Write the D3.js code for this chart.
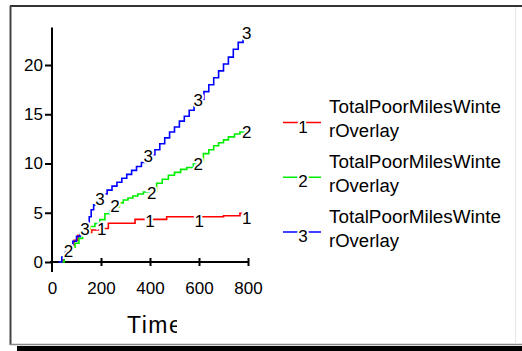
<!DOCTYPE html>
<html><head><meta charset="utf-8">
<script src="https://cdn.jsdelivr.net/npm/d3@7"></script>
<style>html,body{margin:0;padding:0;background:#fff;} svg{display:block;font-family:"Liberation Sans",Arial,sans-serif;}</style>
</head><body><svg id="c" width="522" height="351"></svg>
<script>
// ---- data ----
const xTicks = [0, 200, 400, 600, 800];
const yTicks = [0, 5, 10, 15, 20];
const xTitle = "Time";
const seriesKeys = ["1", "2", "3"];
const seriesNames = ["TotalPoorMilesWinterOverlay", "TotalPoorMilesWinterOverlay", "TotalPoorMilesWinterOverlay"];
const seriesColors = ["#ff0000", "#00ee00", "#0000ff"];

const s1Time = [30,45,60,75,90,106,130,162,200,230,339,468,600,700,767,790];
const s1Vals = [0,0.5,1.1,1.6,2.2,2.7,3.0,3.25,3.4,3.93,4.33,4.6,4.6,4.7,4.94,4.94];
const s2Time = [35,50,67,80,94,110,125,140,155,175,195,216,235,257,275,291,310,330,350,373,400,427,450,475,500,525,550,577,600,618,640,660,680,700,720,745,767,790];
const s2Vals = [0,0.5,1.0,1.5,1.9,2.4,2.8,3.2,3.6,3.9,4.3,4.9,5.2,5.6,6.0,6.3,6.5,6.7,6.9,7.1,7.2,8.0,8.4,8.8,9.1,9.4,9.6,10.0,10.2,11.0,11.4,11.8,12.1,12.4,12.7,13.0,13.2,13.4];
const s3Time = [26,40,55,70,85,100,115,128,142,152,160,170,182,196,210,225,245,265,285,305,325,345,365,385,400,420,440,460,480,500,520,540,560,580,600,620,640,660,680,700,720,740,760,780,795];
const s3Vals = [0,0.5,1.0,1.6,2.1,2.6,3.0,3.3,3.8,4.6,5.3,5.8,6.1,6.4,6.9,7.3,7.7,8.1,8.5,8.9,9.3,9.7,10.1,10.5,10.9,11.4,12.0,12.6,13.2,13.7,14.3,14.8,15.4,15.9,16.5,17.3,18.0,18.7,19.4,20.1,20.8,21.6,22.3,23.0,23.2];

const s1LabelTime = [203,400,601,795];
const s1LabelVals = [3.25,4.1,4.1,4.4];
const s2LabelTime = [67,257,407,597,795];
const s2LabelVals = [1.05,5.6,7.0,9.85,13.1];
const s3LabelTime = [135,196,393,597,795];
const s3LabelVals = [3.25,6.3,10.7,16.4,23.2];

// ---- build ----
const series = [
  {key: seriesKeys[0], name: seriesNames[0], color: seriesColors[0], t: s1Time, v: s1Vals, lt: s1LabelTime, lv: s1LabelVals},
  {key: seriesKeys[1], name: seriesNames[1], color: seriesColors[1], t: s2Time, v: s2Vals, lt: s2LabelTime, lv: s2LabelVals},
  {key: seriesKeys[2], name: seriesNames[2], color: seriesColors[2], t: s3Time, v: s3Vals, lt: s3LabelTime, lv: s3LabelVals}
];

const svg = d3.select("#c");
svg.append("rect").attr("width", 522).attr("height", 351).attr("fill", "#fff");

// frame
svg.append("line").attr("x1", 10).attr("y1", 6).attr("x2", 522).attr("y2", 6).attr("stroke", "#333").attr("stroke-width", 2);
svg.append("line").attr("x1", 10.5).attr("y1", 6).attr("x2", 10.5).attr("y2", 345).attr("stroke", "#444").attr("stroke-width", 2);
svg.append("line").attr("x1", 10).attr("y1", 344.5).attr("x2", 522).attr("y2", 344.5).attr("stroke", "#888").attr("stroke-width", 1.5);
svg.append("rect").attr("x", 17).attr("y", 346).attr("width", 505).attr("height", 5).attr("fill", "#000");
svg.append("line").attr("x1", 515.5).attr("y1", 7).attr("x2", 515.5).attr("y2", 344).attr("stroke", "#e6e6e6").attr("stroke-width", 1);

const x = d3.scaleLinear().domain([0, 800]).range([52, 248]);
const y = d3.scaleLinear().domain([0, 20]).range([262, 65]);

// x axis
const gx = svg.append("g").attr("transform", `translate(0,${y(0)})`)
  .call(d3.axisBottom(x).tickValues(xTicks).tickSizeInner(4).tickSizeOuter(0).tickPadding(16).tickFormat(d3.format("d")));
gx.select(".domain").attr("d", `M${x(0) - 2},0H${x(800)}`).attr("stroke-width", 2);
gx.selectAll(".tick line").attr("y1", -4).attr("y2", 4).attr("stroke-width", 2);
gx.selectAll(".tick").filter(d => d === 0).select("line").remove();
gx.selectAll(".tick text").attr("font-size", 17).attr("fill", "#000").attr("font-family", "Liberation Sans, Arial, sans-serif");

// y axis
const gy = svg.append("g").attr("transform", `translate(${x(0)},0)`)
  .call(d3.axisLeft(y).tickValues(yTicks).tickSizeInner(7).tickSizeOuter(0).tickPadding(2).tickFormat(d3.format("d")));
gy.select(".domain").attr("d", `M0,${y(23.8)}V${y(0) + 10}`).attr("stroke-width", 2);
gy.selectAll(".tick line").attr("stroke-width", 2);
gy.selectAll(".tick text").attr("font-size", 17).attr("fill", "#000").attr("font-family", "Liberation Sans, Arial, sans-serif");

// axis title (clipped like the original)
svg.append("clipPath").attr("id", "tclip").append("rect").attr("x", 100).attr("y", 300).attr("width", 77).attr("height", 45);
svg.append("text").attr("x", 127).attr("y", 333).attr("font-size", 23).attr("letter-spacing", 1.5)
  .attr("clip-path", "url(#tclip)").attr("fill", "#000").text(xTitle);

// lines
const line = d3.line().x(d => x(d[0])).y(d => y(d[1])).curve(d3.curveStepAfter);
series.forEach(s => {
  const pts = s.t.map((t, i) => [t, s.v[i]]);
  svg.append("path").datum(pts).attr("d", line).attr("fill", "none")
    .attr("stroke", s.color).attr("stroke-width", 1.6);
});

// point labels
series.forEach(s => {
  svg.append("g").selectAll("text").data(s.lt.map((t, i) => [t, s.lv[i]])).join("text")
    .attr("x", d => x(d[0])).attr("y", d => y(d[1]))
    .attr("text-anchor", "middle").attr("dominant-baseline", "central")
    .attr("font-size", 17).attr("fill", "#000")
    .attr("stroke", "#fff").attr("stroke-width", 4).attr("paint-order", "stroke")
    .text(s.key);
});

// legend
series.forEach((s, i) => {
  const yc = 122.5 + 54.75 * i;
  const g = svg.append("g");
  g.append("line").attr("x1", 283).attr("x2", 321).attr("y1", yc).attr("y2", yc)
    .attr("stroke", s.color).attr("stroke-width", 1.6);
  g.append("text").attr("x", 303).attr("y", yc + 10).attr("text-anchor", "middle")
    .attr("font-size", 17).attr("fill", "#000").attr("stroke", "#fff").attr("stroke-width", 4)
    .attr("paint-order", "stroke").text(s.key);
  const l1 = s.name.slice(0, 19), l2 = s.name.slice(19);
  g.append("text").attr("x", 329).attr("y", yc - 9.5).attr("font-size", 18).attr("fill", "#000")
    .attr("textLength", 172).attr("lengthAdjust", "spacingAndGlyphs").text(l1);
  g.append("text").attr("x", 329).attr("y", yc + 14.5).attr("font-size", 18).attr("fill", "#000")
    .attr("textLength", 70).attr("lengthAdjust", "spacingAndGlyphs").text(l2);
});
</script>
</body></html>
